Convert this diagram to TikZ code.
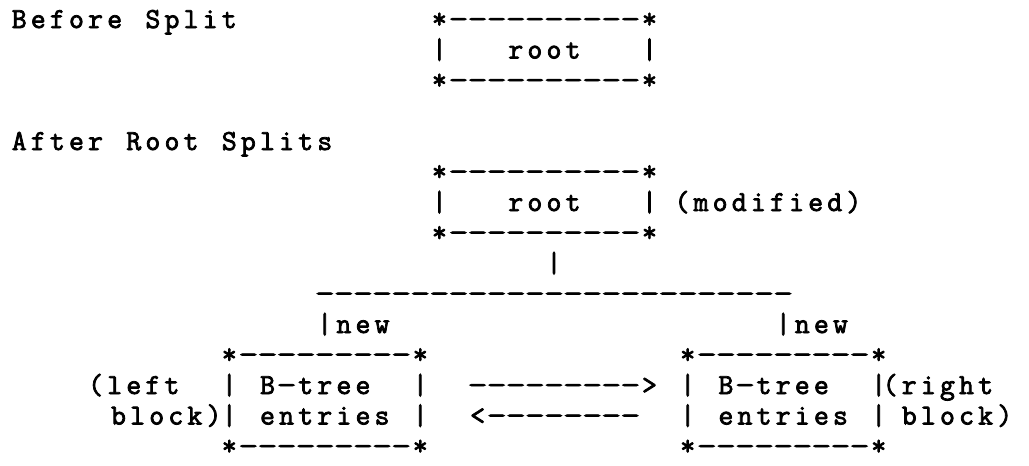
\documentclass[tikz,border=0pt]{standalone}
\usepackage{graphicx}
\usepackage{fontspec}
\newfontfamily\tw{Latin Modern Mono}[FakeBold=2.6]
\newdimen\cw \cw=19.1pt
\ExplSyntaxOn
\NewDocumentCommand\spc{m}{\tl_map_inline:nn{#1}{
  \str_if_eq:nnTF{##1}{-}
    {\hbox_to_wd:nn{\cw}{\hss\scalebox{1.32}[1]{-}\hss}}
    {\hbox_to_wd:nn{\cw}{\hss ##1 \hss}}}}
\ExplSyntaxOff
\newcommand\frag[4]{\node[frag] (#1) at ({9.45+19.1*#2},{28+30.5*#3}) {\spc{#4}};}
\begin{document}
\begin{tikzpicture}[x=1pt,y=-1pt,
  frag/.style={inner sep=0pt, anchor=base west, font={\tw\fontsize{29}{32}\selectfont}}]
\useasboundingbox (0,0) rectangle (1029,466);
\fill[white] (0,0) rectangle (1029,466);
% Before split
\frag{before}{0}{0}{Before}
\frag{split}{7}{0}{Split}
\frag{r1top}{22}{0}{*----------*}
\frag{r1l}{22}{1}{|}
\frag{r1txt}{26}{1}{root}
\frag{r1r}{33}{1}{|}
\frag{r1bot}{22}{2}{*----------*}
% After root splits
\frag{after}{0}{4}{After}
\frag{rootw}{6}{4}{Root}
\frag{splits}{11}{4}{Splits}
\frag{r2top}{22}{5}{*----------*}
\frag{r2l}{22}{6}{|}
\frag{r2txt}{26}{6}{root}
\frag{r2r}{33}{6}{|}
\frag{modified}{34.7}{6}{(modified)}
\frag{r2bot}{22}{7}{*----------*}
\frag{stem}{28}{8}{|}
\frag{bar}{16}{9}{-------------------------}
\frag{newl}{16}{10}{|new}
\frag{newr}{40}{10}{|new}
% left block
\frag{lbtop}{11}{11}{*---------*}
\frag{lefta}{4}{12}{(left}
\frag{lb1l}{11}{12}{|}
\frag{lb1txt}{13}{12}{B-tree}
\frag{lb1r}{21}{12}{|}
\frag{blocka}{5.2}{13}{block)}
\frag{lb2l}{11}{13}{|}
\frag{lb2txt}{13}{13}{entries}
\frag{lb2r}{21}{13}{|}
\frag{lbbot}{11}{14}{*---------*}
% arrows
\frag{fwd}{24}{12}{--------->}
\frag{back}{24}{13}{<--------}
% right block
\frag{rbtop}{35}{11}{*---------*}
\frag{rb1l}{35}{12}{|}
\frag{rb1txt}{37}{12}{B-tree}
\frag{rb1r}{45}{12}{|}
\frag{righta}{45.6}{12}{(right}
\frag{rb2l}{35}{13}{|}
\frag{rb2txt}{37}{13}{entries}
\frag{rb2r}{45}{13}{|}
\frag{blockb}{46.6}{13}{block)}
\frag{rbbot}{35}{14}{*---------*}
\end{tikzpicture}
\end{document}
